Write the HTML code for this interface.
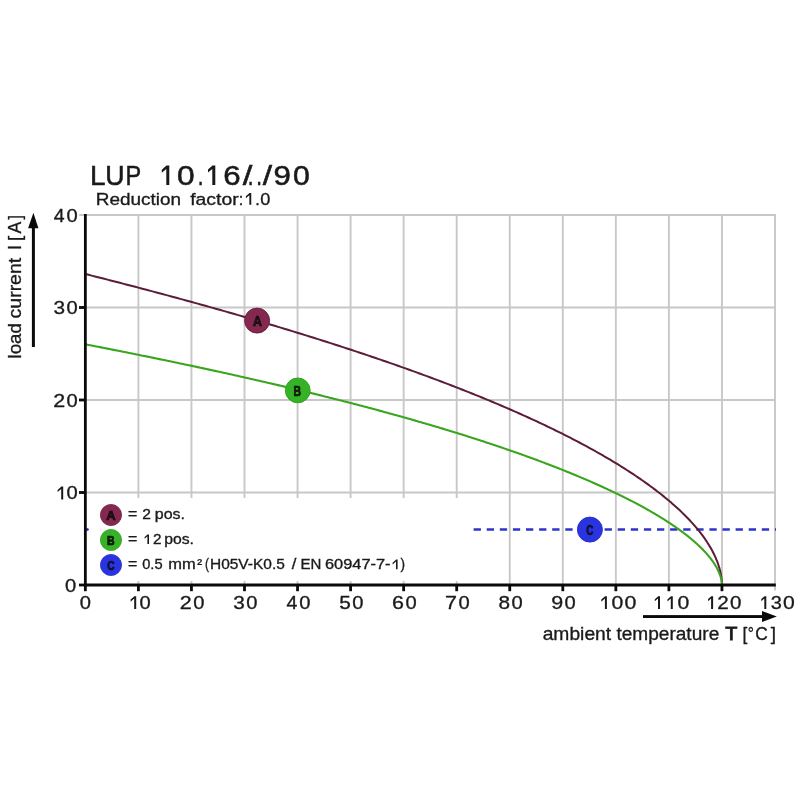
<!DOCTYPE html>
<html><head><meta charset="utf-8"><title>LUP 10.16/../90</title>
<style>
html,body{margin:0;padding:0;background:#fff;}
body{width:800px;height:800px;overflow:hidden;}
svg{display:block;font-family:"Liberation Sans",sans-serif;}
text{fill:#1a1a1a;}
</style></head><body>
<svg width="800" height="800" viewBox="0 0 800 800">
<rect width="800" height="800" fill="#ffffff"/>
<g opacity="0.999">
<g stroke="#c8c8c8" stroke-width="1.9" fill="none">
<line x1="138.40" y1="214.3" x2="138.40" y2="590.6"/>
<line x1="191.45" y1="214.3" x2="191.45" y2="590.6"/>
<line x1="244.50" y1="214.3" x2="244.50" y2="590.6"/>
<line x1="297.55" y1="214.3" x2="297.55" y2="590.6"/>
<line x1="350.60" y1="214.3" x2="350.60" y2="590.6"/>
<line x1="403.65" y1="214.3" x2="403.65" y2="590.6"/>
<line x1="456.70" y1="214.3" x2="456.70" y2="590.6"/>
<line x1="509.75" y1="214.3" x2="509.75" y2="590.6"/>
<line x1="562.80" y1="214.3" x2="562.80" y2="590.6"/>
<line x1="615.85" y1="214.3" x2="615.85" y2="590.6"/>
<line x1="668.90" y1="214.3" x2="668.90" y2="590.6"/>
<line x1="721.95" y1="214.3" x2="721.95" y2="590.6"/>
<line x1="775.00" y1="214.3" x2="775.00" y2="590.6"/>
<line x1="79.2" y1="492.50" x2="775.7" y2="492.50"/>
<line x1="79.2" y1="400.00" x2="775.7" y2="400.00"/>
<line x1="79.2" y1="307.50" x2="775.7" y2="307.50"/>
<line x1="79.2" y1="215.00" x2="775.7" y2="215.00"/>
</g>
<line x1="85.35" y1="529.5" x2="776" y2="529.5" stroke="#2c34cc" stroke-width="2.4" stroke-dasharray="7.3 5.8" stroke-dashoffset="4.75"/>
<rect x="88.8" y="498" width="383" height="83" fill="#ffffff"/>
<polyline points="85.35,274.02 88.53,274.82 91.70,275.62 94.86,276.42 98.02,277.22 101.17,278.03 104.30,278.83 107.44,279.63 110.56,280.43 113.67,281.23 116.78,282.04 119.88,282.84 122.97,283.64 126.06,284.44 129.13,285.24 132.20,286.04 135.26,286.84 138.31,287.65 141.35,288.45 144.39,289.25 147.42,290.05 150.44,290.85 153.45,291.65 156.45,292.45 159.45,293.25 162.44,294.05 165.42,294.85 168.39,295.66 171.35,296.46 174.31,297.26 177.26,298.06 180.20,298.86 183.13,299.66 186.06,300.46 188.97,301.26 191.88,302.06 194.78,302.86 197.67,303.66 200.56,304.46 203.44,305.26 206.30,306.06 209.16,306.86 212.02,307.66 214.86,308.46 217.70,309.26 220.53,310.06 223.35,310.86 226.16,311.66 228.97,312.46 231.76,313.26 234.55,314.06 237.33,314.86 240.11,315.66 242.87,316.46 245.63,317.26 248.38,318.06 251.12,318.86 253.85,319.66 256.58,320.46 259.30,321.26 262.01,322.06 264.71,322.86 267.40,323.65 270.09,324.45 272.77,325.25 275.43,326.05 278.10,326.85 280.75,327.65 283.40,328.45 286.03,329.25 288.66,330.05 291.29,330.85 293.90,331.65 296.51,332.45 299.10,333.25 301.69,334.05 304.28,334.85 306.85,335.65 309.42,336.45 311.98,337.24 314.53,338.04 317.07,338.84 319.60,339.64 322.13,340.44 324.65,341.24 327.16,342.04 329.66,342.84 332.16,343.64 334.64,344.44 337.12,345.24 339.59,346.04 342.05,346.84 344.51,347.64 346.96,348.44 349.40,349.24 351.83,350.03 354.25,350.83 356.66,351.63 359.07,352.43 361.47,353.23 363.86,354.03 366.25,354.83 368.62,355.63 370.99,356.43 373.35,357.23 375.70,358.03 378.04,358.83 380.38,359.63 382.71,360.43 385.03,361.23 387.34,362.03 389.64,362.83 391.94,363.63 394.22,364.43 396.50,365.23 398.78,366.03 401.04,366.83 403.30,367.63 405.54,368.43 407.78,369.23 410.02,370.03 412.24,370.83 414.46,371.62 416.66,372.42 418.86,373.22 421.06,374.02 423.24,374.82 425.42,375.62 427.59,376.42 429.75,377.22 431.90,378.02 434.04,378.82 436.18,379.62 438.31,380.42 440.43,381.22 442.54,382.02 444.65,382.82 446.74,383.62 448.83,384.42 450.91,385.22 452.99,386.02 455.05,386.82 457.11,387.62 459.16,388.42 461.20,389.22 463.23,390.02 465.26,390.82 467.27,391.62 469.28,392.42 471.28,393.22 473.28,394.02 475.26,394.82 477.24,395.62 479.21,396.42 481.17,397.22 483.13,398.02 485.07,398.82 487.01,399.62 488.94,400.42 490.86,401.22 492.77,402.02 494.68,402.82 496.58,403.62 498.47,404.42 500.35,405.22 502.22,406.02 504.09,406.82 505.95,407.62 507.80,408.42 509.64,409.22 511.47,410.02 513.30,410.82 515.12,411.62 516.93,412.42 518.73,413.22 520.53,414.02 522.31,414.82 524.09,415.62 525.86,416.42 527.62,417.22 529.38,418.01 531.13,418.81 532.86,419.61 534.59,420.41 536.32,421.21 538.03,422.01 539.74,422.81 541.44,423.61 543.13,424.41 544.81,425.20 546.49,426.00 548.15,426.80 549.81,427.60 551.46,428.40 553.11,429.20 554.74,429.99 556.37,430.79 557.99,431.59 559.60,432.39 561.20,433.18 562.80,433.98 564.39,434.78 565.97,435.58 567.54,436.37 569.10,437.17 570.66,437.97 572.21,438.77 573.75,439.56 575.28,440.36 576.80,441.15 578.32,441.95 579.83,442.75 581.33,443.54 582.82,444.34 584.30,445.14 585.78,445.93 587.25,446.73 588.71,447.52 590.16,448.32 591.60,449.11 593.04,449.91 594.47,450.70 595.89,451.50 597.30,452.29 598.70,453.08 600.10,453.88 601.49,454.67 602.87,455.47 604.24,456.26 605.61,457.05 606.96,457.85 608.31,458.64 609.65,459.43 610.99,460.22 612.31,461.02 613.63,461.81 614.94,462.60 616.24,463.39 617.53,464.18 618.82,464.97 620.09,465.76 621.36,466.56 622.62,467.35 623.88,468.14 625.12,468.93 626.36,469.72 627.59,470.50 628.81,471.29 630.02,472.08 631.23,472.87 632.43,473.66 633.62,474.45 634.80,475.24 635.97,476.02 637.14,476.81 638.30,477.60 639.45,478.38 640.59,479.17 641.72,479.96 642.85,480.74 643.97,481.53 645.08,482.31 646.18,483.10 647.27,483.88 648.36,484.67 649.44,485.45 650.51,486.23 651.57,487.02 652.62,487.80 653.67,488.58 654.71,489.36 655.74,490.15 656.76,490.93 657.78,491.71 658.78,492.49 659.78,493.27 660.77,494.05 661.76,494.83 662.73,495.61 663.70,496.39 664.66,497.16 665.61,497.94 666.55,498.72 667.48,499.50 668.41,500.27 669.33,501.05 670.24,501.83 671.15,502.60 672.04,503.38 672.93,504.15 673.81,504.92 674.68,505.70 675.54,506.47 676.40,507.24 677.24,508.02 678.08,508.79 678.92,509.56 679.74,510.33 680.56,511.10 681.36,511.87 682.16,512.64 682.95,513.41 683.74,514.18 684.51,514.94 685.28,515.71 686.04,516.48 686.79,517.24 687.54,518.01 688.27,518.77 689.00,519.54 689.72,520.30 690.43,521.07 691.14,521.83 691.83,522.59 692.52,523.35 693.20,524.11 693.88,524.87 694.54,525.63 695.20,526.39 695.85,527.15 696.49,527.91 697.12,528.67 697.74,529.42 698.36,530.18 698.97,530.94 699.57,531.69 700.16,532.44 700.75,533.20 701.32,533.95 701.89,534.70 702.45,535.45 703.01,536.20 703.55,536.95 704.09,537.70 704.62,538.45 705.14,539.20 705.65,539.95 706.16,540.69 706.66,541.44 707.15,542.18 707.63,542.93 708.10,543.67 708.57,544.41 709.02,545.15 709.47,545.90 709.91,546.63 710.35,547.37 710.77,548.11 711.19,548.85 711.60,549.58 712.00,550.32 712.40,551.05 712.78,551.79 713.16,552.52 713.53,553.25 713.89,553.98 714.25,554.71 714.59,555.44 714.93,556.17 715.26,556.89 715.58,557.62 715.90,558.34 716.20,559.07 716.50,559.79 716.79,560.51 717.08,561.23 717.35,561.95 717.62,562.66 717.88,563.38 718.13,564.09 718.37,564.80 718.60,565.52 718.83,566.23 719.05,566.93 719.26,567.64 719.46,568.35 719.66,569.05 719.85,569.75 720.02,570.45 720.20,571.15 720.36,571.85 720.51,572.54 720.66,573.23 720.80,573.92 720.93,574.61 721.05,575.29 721.17,575.98 721.28,576.66 721.38,577.33 721.47,578.01 721.55,578.68 721.63,579.34 721.70,580.00 721.76,580.66 721.81,581.31 721.85,581.96 721.89,582.60 721.91,583.23 721.93,583.84 721.95,584.44 721.95,585.00" fill="none" stroke="#5c1c3a" stroke-width="2.0"/>
<polyline points="85.35,344.31 88.53,344.93 91.70,345.55 94.86,346.16 98.02,346.78 101.17,347.40 104.30,348.01 107.44,348.63 110.56,349.24 113.67,349.86 116.78,350.48 119.88,351.09 122.97,351.71 126.06,352.32 129.13,352.94 132.20,353.56 135.26,354.17 138.31,354.79 141.35,355.41 144.39,356.02 147.42,356.64 150.44,357.26 153.45,357.87 156.45,358.49 159.45,359.11 162.44,359.72 165.42,360.34 168.39,360.96 171.35,361.57 174.31,362.19 177.26,362.81 180.20,363.43 183.13,364.04 186.06,364.66 188.97,365.28 191.88,365.90 194.78,366.52 197.67,367.14 200.56,367.75 203.44,368.37 206.30,368.99 209.16,369.61 212.02,370.23 214.86,370.85 217.70,371.47 220.53,372.09 223.35,372.71 226.16,373.33 228.97,373.95 231.76,374.57 234.55,375.19 237.33,375.81 240.11,376.43 242.87,377.05 245.63,377.67 248.38,378.29 251.12,378.91 253.85,379.54 256.58,380.16 259.30,380.78 262.01,381.40 264.71,382.03 267.40,382.65 270.09,383.27 272.77,383.89 275.43,384.52 278.10,385.14 280.75,385.76 283.40,386.39 286.03,387.01 288.66,387.64 291.29,388.26 293.90,388.89 296.51,389.51 299.10,390.14 301.69,390.76 304.28,391.39 306.85,392.01 309.42,392.64 311.98,393.26 314.53,393.89 317.07,394.52 319.60,395.14 322.13,395.77 324.65,396.40 327.16,397.02 329.66,397.65 332.16,398.28 334.64,398.91 337.12,399.54 339.59,400.16 342.05,400.79 344.51,401.42 346.96,402.05 349.40,402.68 351.83,403.31 354.25,403.94 356.66,404.57 359.07,405.20 361.47,405.83 363.86,406.46 366.25,407.09 368.62,407.72 370.99,408.35 373.35,408.98 375.70,409.61 378.04,410.24 380.38,410.87 382.71,411.51 385.03,412.14 387.34,412.77 389.64,413.40 391.94,414.03 394.22,414.67 396.50,415.30 398.78,415.93 401.04,416.57 403.30,417.20 405.54,417.83 407.78,418.47 410.02,419.10 412.24,419.73 414.46,420.37 416.66,421.00 418.86,421.64 421.06,422.27 423.24,422.90 425.42,423.54 427.59,424.17 429.75,424.81 431.90,425.44 434.04,426.08 436.18,426.71 438.31,427.35 440.43,427.99 442.54,428.62 444.65,429.26 446.74,429.89 448.83,430.53 450.91,431.17 452.99,431.80 455.05,432.44 457.11,433.07 459.16,433.71 461.20,434.35 463.23,434.98 465.26,435.62 467.27,436.26 469.28,436.89 471.28,437.53 473.28,438.17 475.26,438.80 477.24,439.44 479.21,440.08 481.17,440.72 483.13,441.35 485.07,441.99 487.01,442.63 488.94,443.27 490.86,443.90 492.77,444.54 494.68,445.18 496.58,445.82 498.47,446.45 500.35,447.09 502.22,447.73 504.09,448.37 505.95,449.00 507.80,449.64 509.64,450.28 511.47,450.91 513.30,451.55 515.12,452.19 516.93,452.83 518.73,453.46 520.53,454.10 522.31,454.74 524.09,455.38 525.86,456.01 527.62,456.65 529.38,457.29 531.13,457.92 532.86,458.56 534.59,459.20 536.32,459.84 538.03,460.47 539.74,461.11 541.44,461.74 543.13,462.38 544.81,463.02 546.49,463.65 548.15,464.29 549.81,464.93 551.46,465.56 553.11,466.20 554.74,466.83 556.37,467.47 557.99,468.10 559.60,468.74 561.20,469.37 562.80,470.01 564.39,470.64 565.97,471.28 567.54,471.91 569.10,472.55 570.66,473.18 572.21,473.81 573.75,474.45 575.28,475.08 576.80,475.72 578.32,476.35 579.83,476.98 581.33,477.61 582.82,478.25 584.30,478.88 585.78,479.51 587.25,480.14 588.71,480.77 590.16,481.40 591.60,482.04 593.04,482.67 594.47,483.30 595.89,483.93 597.30,484.56 598.70,485.19 600.10,485.82 601.49,486.45 602.87,487.07 604.24,487.70 605.61,488.33 606.96,488.96 608.31,489.59 609.65,490.21 610.99,490.84 612.31,491.47 613.63,492.09 614.94,492.72 616.24,493.35 617.53,493.97 618.82,494.60 620.09,495.22 621.36,495.84 622.62,496.47 623.88,497.09 625.12,497.71 626.36,498.34 627.59,498.96 628.81,499.58 630.02,500.20 631.23,500.82 632.43,501.44 633.62,502.06 634.80,502.68 635.97,503.30 637.14,503.92 638.30,504.54 639.45,505.16 640.59,505.78 641.72,506.39 642.85,507.01 643.97,507.63 645.08,508.24 646.18,508.86 647.27,509.47 648.36,510.09 649.44,510.70 650.51,511.31 651.57,511.93 652.62,512.54 653.67,513.15 654.71,513.76 655.74,514.37 656.76,514.98 657.78,515.59 658.78,516.20 659.78,516.81 660.77,517.41 661.76,518.02 662.73,518.63 663.70,519.23 664.66,519.84 665.61,520.45 666.55,521.05 667.48,521.65 668.41,522.26 669.33,522.86 670.24,523.46 671.15,524.06 672.04,524.66 672.93,525.26 673.81,525.86 674.68,526.46 675.54,527.06 676.40,527.65 677.24,528.25 678.08,528.85 678.92,529.44 679.74,530.04 680.56,530.63 681.36,531.22 682.16,531.82 682.95,532.41 683.74,533.00 684.51,533.59 685.28,534.18 686.04,534.77 686.79,535.35 687.54,535.94 688.27,536.53 689.00,537.11 689.72,537.70 690.43,538.28 691.14,538.87 691.83,539.45 692.52,540.03 693.20,540.61 693.88,541.19 694.54,541.77 695.20,542.35 695.85,542.92 696.49,543.50 697.12,544.08 697.74,544.65 698.36,545.23 698.97,545.80 699.57,546.37 700.16,546.94 700.75,547.51 701.32,548.08 701.89,548.65 702.45,549.22 703.01,549.78 703.55,550.35 704.09,550.91 704.62,551.48 705.14,552.04 705.65,552.60 706.16,553.16 706.66,553.72 707.15,554.28 707.63,554.83 708.10,555.39 708.57,555.95 709.02,556.50 709.47,557.05 709.91,557.60 710.35,558.15 710.77,558.70 711.19,559.25 711.60,559.80 712.00,560.34 712.40,560.89 712.78,561.43 713.16,561.97 713.53,562.51 713.89,563.05 714.25,563.59 714.59,564.13 714.93,564.66 715.26,565.20 715.58,565.73 715.90,566.26 716.20,566.79 716.50,567.32 716.79,567.84 717.08,568.37 717.35,568.89 717.62,569.41 717.88,569.93 718.13,570.45 718.37,570.97 718.60,571.48 718.83,571.99 719.05,572.50 719.26,573.01 719.46,573.52 719.66,574.02 719.85,574.52 720.02,575.02 720.20,575.52 720.36,576.02 720.51,576.51 720.66,577.00 720.80,577.49 720.93,577.97 721.05,578.45 721.17,578.93 721.28,579.41 721.38,579.88 721.47,580.34 721.55,580.81 721.63,581.27 721.70,581.72 721.76,582.17 721.81,582.61 721.85,583.04 721.89,583.47 721.91,583.88 721.93,584.28 721.95,584.67 721.95,585.00" fill="none" stroke="#3aa51f" stroke-width="2.1"/>
<g stroke="#0a0a0a" stroke-width="2.8" fill="none">
<line x1="85.35" y1="214" x2="85.35" y2="586.4"/>
<line x1="84" y1="585" x2="775.8" y2="585"/>
<line x1="85.35" y1="585" x2="85.35" y2="591.2"/>
<line x1="138.40" y1="585" x2="138.40" y2="591.2"/>
<line x1="191.45" y1="585" x2="191.45" y2="591.2"/>
<line x1="244.50" y1="585" x2="244.50" y2="591.2"/>
<line x1="297.55" y1="585" x2="297.55" y2="591.2"/>
<line x1="350.60" y1="585" x2="350.60" y2="591.2"/>
<line x1="403.65" y1="585" x2="403.65" y2="591.2"/>
<line x1="456.70" y1="585" x2="456.70" y2="591.2"/>
<line x1="509.75" y1="585" x2="509.75" y2="591.2"/>
<line x1="562.80" y1="585" x2="562.80" y2="591.2"/>
<line x1="615.85" y1="585" x2="615.85" y2="591.2"/>
<line x1="668.90" y1="585" x2="668.90" y2="591.2"/>
<line x1="721.95" y1="585" x2="721.95" y2="591.2"/>
<line x1="79" y1="585.00" x2="85" y2="585.00"/>
<line x1="79" y1="492.50" x2="85" y2="492.50"/>
<line x1="79" y1="400.00" x2="85" y2="400.00"/>
<line x1="79" y1="307.50" x2="85" y2="307.50"/>
</g>
<g>
<text transform="translate(79.68,608.90) scale(1.1200,1.0)" font-size="18" stroke="#1a1a1a" stroke-width="0.32">0</text>
<polygon fill="#1a1a1a" points="136.20,596.20 136.20,608.90 134.20,608.90 134.20,598.58 130.60,601.71 130.60,599.62 134.40,596.20"/>
<text transform="translate(139.53,608.90) scale(1.1200,1.0)" font-size="18" stroke="#1a1a1a" stroke-width="0.32">0</text>
<text transform="translate(179.80,608.90) scale(1.1947,1.0)" font-size="18" stroke="#1a1a1a" stroke-width="0.32">2</text>
<text transform="translate(193.18,608.90) scale(1.1200,1.0)" font-size="18" stroke="#1a1a1a" stroke-width="0.32">0</text>
<text transform="translate(233.21,608.90) scale(1.1561,1.0)" font-size="18" stroke="#1a1a1a" stroke-width="0.32">3</text>
<text transform="translate(246.23,608.90) scale(1.1200,1.0)" font-size="18" stroke="#1a1a1a" stroke-width="0.32">0</text>
<text transform="translate(286.60,608.90) scale(1.0861,1.0)" font-size="18" stroke="#1a1a1a" stroke-width="0.32">4</text>
<text transform="translate(299.28,608.90) scale(1.1200,1.0)" font-size="18" stroke="#1a1a1a" stroke-width="0.32">0</text>
<text transform="translate(339.31,608.90) scale(1.1561,1.0)" font-size="18" stroke="#1a1a1a" stroke-width="0.32">5</text>
<text transform="translate(352.33,608.90) scale(1.1200,1.0)" font-size="18" stroke="#1a1a1a" stroke-width="0.32">0</text>
<text transform="translate(392.00,608.90) scale(1.1947,1.0)" font-size="18" stroke="#1a1a1a" stroke-width="0.32">6</text>
<text transform="translate(405.38,608.90) scale(1.1200,1.0)" font-size="18" stroke="#1a1a1a" stroke-width="0.32">0</text>
<text transform="translate(445.05,608.90) scale(1.1947,1.0)" font-size="18" stroke="#1a1a1a" stroke-width="0.32">7</text>
<text transform="translate(458.43,608.90) scale(1.1200,1.0)" font-size="18" stroke="#1a1a1a" stroke-width="0.32">0</text>
<text transform="translate(498.46,608.90) scale(1.1561,1.0)" font-size="18" stroke="#1a1a1a" stroke-width="0.32">8</text>
<text transform="translate(511.48,608.90) scale(1.1200,1.0)" font-size="18" stroke="#1a1a1a" stroke-width="0.32">0</text>
<text transform="translate(551.15,608.90) scale(1.1947,1.0)" font-size="18" stroke="#1a1a1a" stroke-width="0.32">9</text>
<text transform="translate(564.53,608.90) scale(1.1200,1.0)" font-size="18" stroke="#1a1a1a" stroke-width="0.32">0</text>
<polygon fill="#1a1a1a" points="606.90,596.20 606.90,608.90 604.90,608.90 604.90,598.58 601.30,601.71 601.30,599.62 605.10,596.20"/>
<text transform="translate(611.40,608.90) scale(1.1756,1.0)" font-size="18" stroke="#1a1a1a" stroke-width="0.32">0</text>
<text transform="translate(624.49,608.90) scale(1.1867,1.0)" font-size="18" stroke="#1a1a1a" stroke-width="0.32">0</text>
<polygon fill="#1a1a1a" points="660.00,596.20 660.00,608.90 658.00,608.90 658.00,598.58 654.80,601.33 654.80,599.24 658.20,596.20"/>
<polygon fill="#1a1a1a" points="672.80,596.20 672.80,608.90 670.80,608.90 670.80,598.58 667.50,601.43 667.50,599.34 671.00,596.20"/>
<text transform="translate(677.60,608.90) scale(1.1756,1.0)" font-size="18" stroke="#1a1a1a" stroke-width="0.32">0</text>
<polygon fill="#1a1a1a" points="713.10,596.20 713.10,608.90 711.10,608.90 711.10,598.58 708.10,601.14 708.10,599.05 711.30,596.20"/>
<text transform="translate(717.29,608.90) scale(1.1473,1.0)" font-size="18" stroke="#1a1a1a" stroke-width="0.32">2</text>
<text transform="translate(730.12,608.90) scale(1.1422,1.0)" font-size="18" stroke="#1a1a1a" stroke-width="0.32">0</text>
<polygon fill="#1a1a1a" points="766.30,596.20 766.30,608.90 764.30,608.90 764.30,598.58 761.30,601.14 761.30,599.05 764.50,596.20"/>
<text transform="translate(770.84,608.90) scale(1.1103,1.0)" font-size="18" stroke="#1a1a1a" stroke-width="0.32">3</text>
<text transform="translate(783.00,608.90) scale(1.1756,1.0)" font-size="18" stroke="#1a1a1a" stroke-width="0.32">0</text>
<text transform="translate(64.93,591.90) scale(1.1200,1.0)" font-size="18" stroke="#1a1a1a" stroke-width="0.32">0</text>
<polygon fill="#1a1a1a" points="63.20,486.60 63.20,499.40 61.20,499.40 61.20,488.98 57.60,492.11 57.60,490.02 61.40,486.60"/>
<text transform="translate(66.53,499.40) scale(1.1200,1.0)" font-size="18" stroke="#1a1a1a" stroke-width="0.32">0</text>
<text transform="translate(53.15,406.90) scale(1.1947,1.0)" font-size="18" stroke="#1a1a1a" stroke-width="0.32">2</text>
<text transform="translate(66.53,406.90) scale(1.1200,1.0)" font-size="18" stroke="#1a1a1a" stroke-width="0.32">0</text>
<text transform="translate(53.51,314.40) scale(1.1561,1.0)" font-size="18" stroke="#1a1a1a" stroke-width="0.32">3</text>
<text transform="translate(66.53,314.40) scale(1.1200,1.0)" font-size="18" stroke="#1a1a1a" stroke-width="0.32">0</text>
<text transform="translate(53.85,221.90) scale(1.0861,1.0)" font-size="18" stroke="#1a1a1a" stroke-width="0.32">4</text>
<text transform="translate(66.53,221.90) scale(1.1200,1.0)" font-size="18" stroke="#1a1a1a" stroke-width="0.32">0</text>
</g>
<!-- markers -->
<circle cx="257.1" cy="320.6" r="12.5" fill="#85284f" stroke="#6a2242" stroke-width="1"/>
<circle cx="297.75" cy="390.4" r="12.4" fill="#35b226" stroke="#34a022" stroke-width="1"/>
<circle cx="589.9" cy="529.6" r="12.5" fill="#2a33e0" stroke="#2a33cc" stroke-width="1"/>
<text transform="translate(253.06,325.60) scale(0.8707,1.0)" font-size="14.2" font-weight="bold" stroke="#140408" stroke-width="0.70" fill="#140408">A</text>
<text transform="translate(293.40,395.60) scale(0.7324,1.0)" font-size="14.2" font-weight="bold" stroke="#041402" stroke-width="0.70" fill="#041402">B</text>
<text transform="translate(586.14,534.80) scale(0.6918,1.0)" font-size="14.2" font-weight="bold" stroke="#050830" stroke-width="0.70" fill="#050830">C</text>
<!-- legend -->
<circle cx="111" cy="515" r="10.6" fill="#85284f" stroke="#742446" stroke-width="0.8"/>
<circle cx="111" cy="540" r="10.6" fill="#35b226" stroke="#34a422" stroke-width="0.8"/>
<circle cx="111" cy="565" r="10.6" fill="#2a33e0" stroke="#2a33cc" stroke-width="0.8"/>
<text transform="translate(106.35,519.60) scale(1.0114,1.0)" font-size="12.8" font-weight="bold" stroke="#140408" stroke-width="0.70" fill="#140408">A</text>
<text transform="translate(106.99,544.60) scale(0.8250,1.0)" font-size="12.8" font-weight="bold" stroke="#041402" stroke-width="0.70" fill="#041402">B</text>
<text transform="translate(107.23,569.60) scale(0.7907,1.0)" font-size="12.8" font-weight="bold" stroke="#050830" stroke-width="0.70" fill="#050830">C</text>
<g>
<text transform="translate(127.91,519.00) scale(1.1565,1.0)" font-size="13.8" stroke="#1a1a1a" stroke-width="0.32">=</text>
<text transform="translate(127.91,544.00) scale(1.1565,1.0)" font-size="13.8" stroke="#1a1a1a" stroke-width="0.32">=</text>
<text transform="translate(142.18,519.00) scale(1.1331,1.0)" font-size="13.8" stroke="#1a1a1a" stroke-width="0.32">2</text>
<text transform="translate(154.76,519.00) scale(1.1608,1.0)" font-size="13.8" stroke="#1a1a1a" stroke-width="0.32">pos.</text>
<polygon fill="#1a1a1a" points="149.00,534.40 149.00,544.00 147.40,544.00 147.40,536.30 144.60,538.73 144.60,537.06 147.60,534.40"/>
<text transform="translate(152.94,544.00) scale(1.1100,1.0)" font-size="13.8" stroke="#1a1a1a" stroke-width="0.32">2</text>
<text transform="translate(164.17,544.00) scale(1.1441,1.0)" font-size="13.8" stroke="#1a1a1a" stroke-width="0.32">pos.</text>
<text transform="translate(127.91,569.30) scale(1.1565,1.0)" font-size="13.8" stroke="#1a1a1a" stroke-width="0.32">=</text>
<text transform="translate(142.20,569.30) scale(1.0652,1.0)" font-size="13.8" stroke="#1a1a1a" stroke-width="0.32">0.5</text>
<text transform="translate(168.23,569.30) scale(1.1945,1.0)" font-size="13.8" stroke="#1a1a1a" stroke-width="0.32">mm</text>
<text transform="translate(197.18,569.30) scale(1.0504,1.0)" font-size="13.8" stroke="#1a1a1a" stroke-width="0.32">²</text>
<text transform="translate(204.90,569.30) scale(0.8709,1.0)" font-size="13.8" stroke="#1a1a1a" stroke-width="0.32">(</text>
<text transform="translate(209.95,569.30) scale(1.1225,1.0)" font-size="13.8" stroke="#1a1a1a" stroke-width="0.32">H05V-K0.5</text>
<text transform="translate(291.66,569.30) scale(1.2058,1.0)" font-size="13.8" stroke="#1a1a1a" stroke-width="0.32">/</text>
<text transform="translate(300.59,569.30) scale(1.0892,1.0)" font-size="13.8" stroke="#1a1a1a" stroke-width="0.32">EN</text>
<text transform="translate(324.99,569.30) scale(1.1883,1.0)" font-size="13.8" stroke="#1a1a1a" stroke-width="0.32">60947-7-</text>
<polygon fill="#1a1a1a" points="397.60,559.60 397.60,569.30 396.00,569.30 396.00,561.50 392.60,564.50 392.60,562.83 396.20,559.60"/>
<text transform="translate(400.41,569.30) scale(0.9868,1.0)" font-size="13.8" stroke="#1a1a1a" stroke-width="0.32">)</text>
</g>
<!-- titles -->
<g>
<text transform="translate(89.89,184.90) scale(1.0115,1.0)" font-size="27.6" stroke="#1a1a1a" stroke-width="0.55">L</text>
<text transform="translate(105.21,184.90) scale(0.9672,1.0)" font-size="27.6" stroke="#1a1a1a" stroke-width="0.55">U</text>
<text transform="translate(125.44,184.90) scale(0.8513,1.0)" font-size="27.6" stroke="#1a1a1a" stroke-width="0.55">P</text>
<polygon fill="#1a1a1a" points="169.30,165.40 169.30,184.90 166.30,184.90 166.30,168.96 161.80,172.81 161.80,169.68 166.50,165.40"/>
<text transform="translate(177.08,184.90) scale(1.1486,1.0)" font-size="27.6" stroke="#1a1a1a" stroke-width="0.55">0</text>
<text transform="translate(197.87,184.90) scale(0.7453,1.0)" font-size="27.6" stroke="#1a1a1a" stroke-width="0.55">.</text>
<polygon fill="#1a1a1a" points="215.30,165.40 215.30,184.90 212.30,184.90 212.30,168.96 208.00,172.62 208.00,169.49 212.50,165.40"/>
<text transform="translate(223.21,184.90) scale(1.1324,1.0)" font-size="27.6" stroke="#1a1a1a" stroke-width="0.55">6</text>
<text transform="translate(242.78,184.90) scale(1.2496,1.0)" font-size="27.6" stroke="#1a1a1a" stroke-width="0.55">/</text>
<text transform="translate(247.67,184.90) scale(0.7453,1.0)" font-size="27.6" stroke="#1a1a1a" stroke-width="0.55">.</text>
<text transform="translate(256.17,184.90) scale(0.7453,1.0)" font-size="27.6" stroke="#1a1a1a" stroke-width="0.55">.</text>
<text transform="translate(262.77,184.90) scale(1.2174,1.0)" font-size="27.6" stroke="#1a1a1a" stroke-width="0.55">/</text>
<text transform="translate(273.41,184.90) scale(1.1324,1.0)" font-size="27.6" stroke="#1a1a1a" stroke-width="0.55">9</text>
<text transform="translate(293.08,184.90) scale(1.0942,1.0)" font-size="27.6" stroke="#1a1a1a" stroke-width="0.55">0</text>
<text transform="translate(95.78,204.80) scale(1.1293,1.0)" font-size="16.8" stroke="#1a1a1a" stroke-width="0.32">Reduction</text>
<text transform="translate(190.16,204.80) scale(1.1561,1.0)" font-size="16.8" stroke="#1a1a1a" stroke-width="0.32">factor</text>
<text transform="translate(238.69,204.80) scale(0.9687,1.0)" font-size="16.8" stroke="#1a1a1a" stroke-width="0.32">:</text>
<polygon fill="#1a1a1a" points="251.25,192.90 251.25,204.80 249.35,204.80 249.35,195.16 245.90,198.16 245.90,196.18 249.55,192.90"/>
<text transform="translate(255.19,204.80) scale(0.9687,1.0)" font-size="16.8" stroke="#1a1a1a" stroke-width="0.32">.</text>
<text transform="translate(260.19,204.80) scale(1.0810,1.0)" font-size="16.8" stroke="#1a1a1a" stroke-width="0.32">0</text>
</g>
<!-- axis titles -->
<g>
<text transform="translate(542.66,640.30) scale(1.0943,1.0)" font-size="17.6" stroke="#1a1a1a" stroke-width="0.32">ambient</text>
<text transform="translate(616.41,640.30) scale(1.0844,1.0)" font-size="17.6" stroke="#1a1a1a" stroke-width="0.32">temperature</text>
<text transform="translate(725.29,640.30) scale(1.1302,1.0)" font-size="17.6" stroke="#1a1a1a" stroke-width="0.80">T</text>
<text transform="translate(742.58,640.30) scale(0.9818,1.0)" font-size="17.6" stroke="#1a1a1a" stroke-width="0.32">[</text>
<text transform="translate(747.84,640.30) scale(0.8766,1.0)" font-size="17.6" stroke="#1a1a1a" stroke-width="0.32">°</text>
<text transform="translate(755.35,640.30) scale(0.9827,1.0)" font-size="17.6" stroke="#1a1a1a" stroke-width="0.32">C</text>
<text transform="translate(770.86,640.30) scale(1.0857,1.0)" font-size="17.6" stroke="#1a1a1a" stroke-width="0.32">]</text>
<text transform="translate(21.20,358.51) rotate(-90) scale(1.0520,1.0)" font-size="17.8" stroke="#1a1a1a" stroke-width="0.32">load</text>
<text transform="translate(21.20,318.45) rotate(-90) scale(1.0961,1.0)" font-size="17.8" stroke="#1a1a1a" stroke-width="0.32">current</text>
<text transform="translate(21.20,250.15) rotate(-90) scale(1.1197,1.0)" font-size="17.8" stroke="#1a1a1a" stroke-width="0.32">I</text>
<text transform="translate(21.20,241.01) rotate(-90) scale(1.0478,1.0)" font-size="17.8" stroke="#1a1a1a" stroke-width="0.32">[</text>
<text transform="translate(21.20,233.59) rotate(-90) scale(0.9975,1.0)" font-size="17.8" stroke="#1a1a1a" stroke-width="0.32">A</text>
<text transform="translate(21.20,219.59) rotate(-90) scale(0.8809,1.0)" font-size="17.8" stroke="#1a1a1a" stroke-width="0.32">]</text>
</g>
<!-- arrows -->
<g fill="#0a0a0a" stroke="none">
<rect x="31.9" y="226" width="3" height="121"/>
<polygon points="33.4,212.8 38.4,228.3 28.1,228.3"/>
<rect x="643" y="615.1" width="121" height="2.9"/>
<polygon points="776.8,616.5 762,611 762,622"/>
</g>
<line x1="86.8" y1="529.5" x2="88.8" y2="529.5" stroke="#2a2fa0" stroke-width="1.8"/>
</g>
</svg>
</body></html>
